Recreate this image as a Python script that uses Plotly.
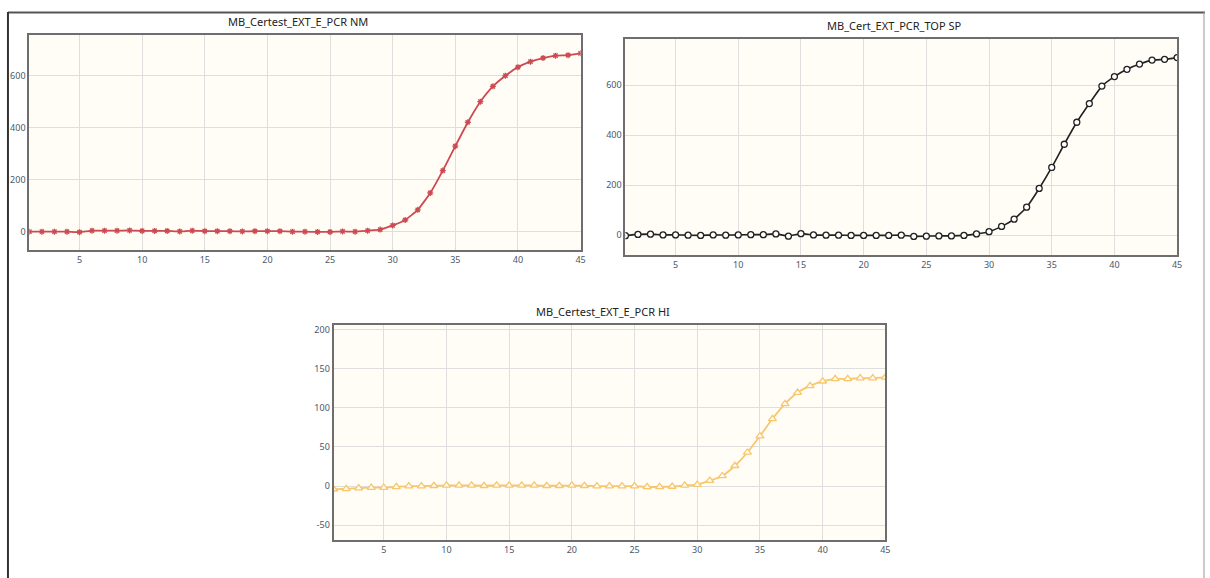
import plotly.graph_objects as go

cycles = list(range(1, 46))

nm_values = [0, 0, 0, 0, -2, 4, 4, 4, 5, 3, 3, 3, 1, 4, 2, 2, 2, 1, 2, 2,
             2, 0, 0, -1, -1, 1, 0, 4, 8, 24, 45, 84, 149, 235, 329, 421, 500, 559, 600, 633,
             654, 668, 677, 679, 686]
sp_values = [-2, 3, 4, 1, 1, 0, -1, 1, 0, 1, 2, 2, 5, -4, 6, 1, 0, 0, -1, -1,
             -1, -1, 0, -5, -4, -3, -3, -1, 5, 14, 35, 64, 112, 187, 271, 364, 452, 527, 597, 635,
             664, 685, 701, 704, 711]
hi_values = [-4, -3.4, -2.5, -2, -2, -1, 0, 0, 0.5, 1, 1, 1, 0.5, 1, 1, 1, 1, 0.5, 0.5, 1,
             0.5, 0, 0, 0, 0, -1, -1, -0.5, 1, 2, 7, 13, 26, 43, 64, 86, 105, 119.5, 128, 134,
             137, 137, 138, 138, 139]

titles = ["MB_Certest_EXT_E_PCR NM", "MB_Cert_EXT_PCR_TOP SP", "MB_Certest_EXT_E_PCR HI"]
x_ticks = [5, 10, 15, 20, 25, 30, 35, 40, 45]
y_ticks_nm = [0, 200, 400, 600]
y_ticks_sp = [0, 200, 400, 600]
y_ticks_hi = [-50, 0, 50, 100, 150, 200]

W, H = 1210, 578

def px(v):
    return v / W

def py(v):
    return 1 - v / H

# panel boxes in pixels: left, right, top, bottom
boxes = [(29.5, 583, 33, 249), (628, 1182, 37, 254), (335, 889, 324, 540)]
y_ranges = [[-71, 757], [-80, 786], [-69, 206]]
y_ticks = [y_ticks_nm, y_ticks_sp, y_ticks_hi]

fig = go.Figure()

fig.add_trace(go.Scatter(
    x=cycles, y=nm_values, mode="lines+markers", xaxis="x", yaxis="y",
    line=dict(color="#CC4A51", width=1.8, shape="spline", smoothing=0.4),
    marker=dict(symbol="asterisk-open", size=5, color="#CC4A51",
                line=dict(color="#CC4A51", width=1.3)),
    showlegend=False))
fig.add_trace(go.Scatter(
    x=cycles, y=sp_values, mode="lines+markers", xaxis="x2", yaxis="y2",
    line=dict(color="#222222", width=1.6, shape="spline", smoothing=0.4),
    marker=dict(symbol="circle", size=6, color="#FFFFFF",
                line=dict(color="#222222", width=1.3)),
    showlegend=False))
fig.add_trace(go.Scatter(
    x=cycles, y=hi_values, mode="lines+markers", xaxis="x3", yaxis="y3",
    line=dict(color="#F8C66C", width=1.8, shape="spline", smoothing=0.4),
    marker=dict(symbol="triangle-up", size=7, color="#FFFDF5",
                line=dict(color="#F8C66C", width=1.3)),
    showlegend=False))

layout = dict(
    width=W, height=H, margin=dict(l=0, r=0, t=0, b=0),
    paper_bgcolor="white", plot_bgcolor="#FFFDF6",
    font=dict(family="Noto Sans, Open Sans, sans-serif", size=9, color="#4a5866"),
)

annotations = []
shapes = []
for i, (l, r, t, b) in enumerate(boxes):
    sfx = "" if i == 0 else str(i + 1)
    layout["xaxis" + sfx] = dict(
        domain=[px(l), px(r)], range=[1, 45], anchor="y" + sfx,
        tickvals=x_ticks, ticktext=[str(v) for v in x_ticks],
        showgrid=True, gridcolor="#DEDEDE", gridwidth=1,
        zeroline=False, showline=True, mirror=True,
        linecolor="#6E6E6E", linewidth=2, ticks="",
        tickfont=dict(size=9, color="#4a5866"))
    layout["yaxis" + sfx] = dict(
        domain=[py(b), py(t)], range=y_ranges[i], anchor="x" + sfx,
        tickvals=y_ticks[i], ticktext=[str(v) for v in y_ticks[i]],
        showgrid=True, gridcolor="#DEDEDE", gridwidth=1,
        zeroline=False, showline=True, mirror=True,
        linecolor="#6E6E6E", linewidth=2, ticks="",
        tickfont=dict(size=9, color="#4a5866"), ticklabelstandoff=0)
    annotations.append(dict(
        text=titles[i], xref="paper", yref="paper",
        x=px((l + r) / 2 - 7), y=py(t - 13), xanchor="center", yanchor="middle",
        showarrow=False, font=dict(size=11, color="#222222")))

# outer frame
shapes.append(dict(type="line", xref="paper", yref="paper",
                   x0=px(8), x1=1, y0=py(10.5), y1=py(10.5),
                   line=dict(color="#555555", width=2)))
shapes.append(dict(type="line", xref="paper", yref="paper",
                   x0=px(8), x1=px(8), y0=py(10), y1=0,
                   line=dict(color="#333333", width=2)))
shapes.append(dict(type="line", xref="paper", yref="paper",
                   x0=px(1209), x1=px(1209), y0=py(10), y1=0,
                   line=dict(color="#999999", width=1)))

layout["annotations"] = annotations
layout["shapes"] = shapes
fig.update_layout(**layout)

fig.write_html("out.html")
